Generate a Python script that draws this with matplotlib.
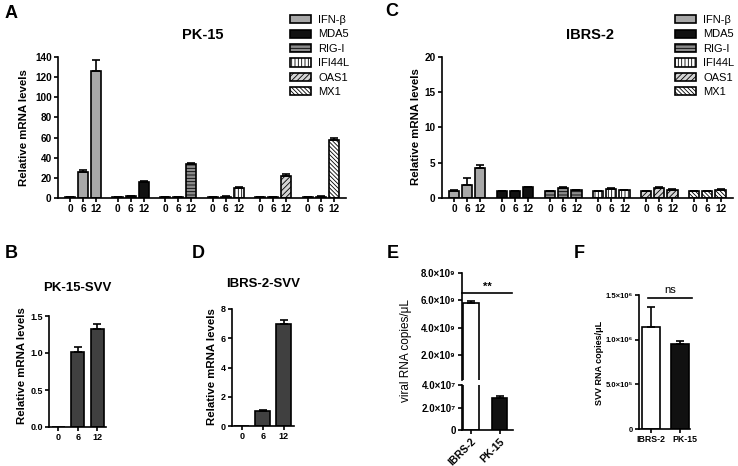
# plot.py
# Six-panel figure: ISG expression in PK-15 / IBRS-2 cells and SVV replication.
# Saves out.png.

import numpy as np
import matplotlib
matplotlib.use("Agg")
import matplotlib.pyplot as plt
from matplotlib.patches import Patch
from matplotlib.transforms import ScaledTranslation

plt.rcParams["font.family"] = ["Liberation Sans", "DejaVu Sans"]
plt.rcParams["font.weight"] = "bold"
plt.rcParams["hatch.linewidth"] = 0.6

W, H = 738, 466

# ---- data ----
genes = ["IFN-β", "MDA5", "RIG-I", "IFI44L", "OAS1", "MX1"]
hours = ["0", "6", "12"]

pk15_mean = [[1.0, 25.5, 126.5], [1.0, 1.5, 16.0], [1.0, 1.0, 33.5],
             [1.0, 1.3, 10.3], [1.0, 1.0, 21.5], [1.0, 1.3, 58.0]]
pk15_err = [[0.1, 2.0, 10.5], [0.1, 0.2, 0.5], [0.1, 0.1, 1.2],
            [0.1, 0.2, 1.0], [0.1, 0.1, 2.2], [0.1, 0.2, 1.5]]

ibrs2_mean = [[1.0, 1.9, 4.3], [1.0, 1.0, 1.5], [1.0, 1.4, 1.1],
              [1.0, 1.3, 1.1], [1.0, 1.4, 1.2], [0.95, 1.0, 1.2]]
ibrs2_err = [[0.15, 0.9, 0.35], [0.05, 0.05, 0.1], [0.05, 0.1, 0.05],
             [0.05, 0.1, 0.05], [0.05, 0.1, 0.05], [0.05, 0.05, 0.05]]

svv_hours = ["0", "6", "12"]
pk15_svv_mean = [0.0, 1.01, 1.33]
pk15_svv_err = [0.0, 0.07, 0.06]
ibrs2_svv_mean = [0.0, 1.02, 6.95]
ibrs2_svv_err = [0.0, 0.08, 0.30]

cells = ["IBRS-2", "PK-15"]
viral_copies = [5.8e9, 2.85e7]
viral_err = [0.12e9, 0.15e7]
e_upper_ticks = [2e9, 4e9, 6e9, 8e9]
e_upper_labels = ["2.0×10⁹", "4.0×10⁹", "6.0×10⁹", "8.0×10⁹"]
e_lower_ticks = [0, 2e7, 4e7]
e_lower_labels = ["0", "2.0×10⁷", "4.0×10⁷"]

svv_copies = [1.14e6, 0.955e6]
svv_err = [0.23e6, 0.035e6]
f_ticks = [0, 5e5, 1e6, 1.5e6]
f_labels = ["0", "5.0×10⁵", "1.0×10⁶", "1.5×10⁶"]

# ---- styles ----
gene_colors = ["#a8a8a8", "#111111", "#8c8c8c", "white", "#d4d4d4", "white"]
gene_hatches = [None, None, "-----", "|||||", "//////", "\\\\\\\\\\\\\\\\"]
LW = 1.2


def px_axes(fig, left, top, right, bottom):
    return fig.add_axes([left / W, 1 - bottom / H, (right - left) / W, (bottom - top) / H])


def ftext(fig, x, y, s, **kw):
    kw.setdefault("ha", "center")
    kw.setdefault("va", "center")
    return fig.text(x / W, 1 - y / H, s, **kw)


def style(ax, size=7):
    for s in ["top", "right"]:
        ax.spines[s].set_visible(False)
    for s in ["left", "bottom"]:
        ax.spines[s].set_linewidth(LW)
    ax.tick_params(direction="out", length=3, width=LW, labelsize=size, pad=1.5)


def errbars(ax, x, y, err, cap=3):
    ax.errorbar(x, y, yerr=[np.zeros(len(err)), err], fmt="none", ecolor="k",
                elinewidth=LW, capsize=cap, capthick=LW, zorder=3)


def gene_panel(ax, means, errs, ymax, yticks):
    step = 3.65
    xs = []
    for g in range(len(genes)):
        x = g * step + np.arange(len(hours))
        ax.bar(x, means[g], width=0.77, color=gene_colors[g], hatch=gene_hatches[g],
               edgecolor="k", linewidth=LW, zorder=2)
        errbars(ax, x, means[g], errs[g])
        xs.extend(x)
    ax.set_xticks(xs)
    ax.set_xticklabels(hours * len(genes))
    ax.set_xlim(-0.92, (len(genes) - 1) * step + 2.95)
    ax.set_ylim(0, ymax)
    ax.set_yticks(yticks)
    style(ax, 7.2)


def gene_legend(ax, fig, x, y):
    handles = [Patch(facecolor=c, hatch=h, edgecolor="k", linewidth=LW)
               for c, h in zip(gene_colors, gene_hatches)]
    ax.legend(handles, genes, loc="upper left", bbox_to_anchor=(x / W, 1 - y / H),
              bbox_transform=fig.transFigure, frameon=False,
              prop={"size": 8, "weight": "normal"}, handlelength=1.85,
              handleheight=0.75, handletextpad=0.7, labelspacing=0.4,
              borderpad=0, borderaxespad=0)


def svv_panel(ax, means, errs, width, xlim, ymax, yticks, ylabels=None):
    x = np.arange(len(svv_hours))
    ax.bar(x, means, width=width, color="#404040", edgecolor="k", linewidth=LW, zorder=2)
    errbars(ax, x[1:], means[1:], errs[1:])
    ax.set_xticks(x)
    ax.set_xticklabels(svv_hours)
    ax.set_xlim(*xlim)
    ax.set_ylim(0, ymax)
    ax.set_yticks(yticks)
    if ylabels is not None:
        ax.set_yticklabels(ylabels)
    style(ax, 6.5)


fig = plt.figure(figsize=(W / 100, H / 100), dpi=100)

# A
axA = px_axes(fig, 58, 57, 346, 198)
gene_panel(axA, pk15_mean, pk15_err, 140, range(0, 141, 20))
gene_legend(axA, fig, 290, 15)
ftext(fig, 203, 35, "PK-15", fontsize=10.5)
ftext(fig, 24, 128, "Relative mRNA levels", rotation=90, fontsize=8.2)

# C
axC = px_axes(fig, 442, 57, 733, 198)
gene_panel(axC, ibrs2_mean, ibrs2_err, 20, range(0, 21, 5))
gene_legend(axC, fig, 675, 15)
ftext(fig, 590, 35, "IBRS-2", fontsize=10.5)
ftext(fig, 416, 127, "Relative mRNA levels", rotation=90, fontsize=8.2)

# B
axB = px_axes(fig, 49, 316, 106, 427)
svv_panel(axB, pk15_svv_mean, pk15_svv_err, 0.67, (-0.47, 2.45), 1.5,
          [0, 0.5, 1.0, 1.5], ["0.0", "0.5", "1.0", "1.5"])
ftext(fig, 77, 288, "PK-15-SVV", fontsize=9.5)
ftext(fig, 22, 366, "Relative mRNA levels", rotation=90, fontsize=8.2)

# D
axD = px_axes(fig, 232, 309, 294, 426)
svv_panel(axD, ibrs2_svv_mean, ibrs2_svv_err, 0.72, (-0.48, 2.5), 8, [0, 2, 4, 6, 8])
ftext(fig, 263, 284, "IBRS-2-SVV", fontsize=9.5)
ftext(fig, 212, 367, "Relative mRNA levels", rotation=90, fontsize=8.2)

# E (broken y axis)
axE1 = px_axes(fig, 462, 273, 513, 380)
axE2 = px_axes(fig, 462, 385, 513, 430)
xe = np.arange(len(cells))
for ax in (axE1, axE2):
    ax.bar(xe, viral_copies, width=0.55, color=["white", "#111111"], edgecolor="k",
           linewidth=LW, zorder=2)
    errbars(ax, xe, viral_copies, viral_err)
    ax.set_xlim(-0.32, 1.47)
    style(ax, 7)
axE1.set_ylim(1.6e8, 8e9)
axE1.set_yticks(e_upper_ticks)
axE1.set_yticklabels(e_upper_labels)
axE1.spines["bottom"].set_visible(False)
axE1.set_xticks([])
axE2.set_ylim(0, 4e7)
axE2.set_yticks(e_lower_ticks)
axE2.set_yticklabels(e_lower_labels)
axE2.set_xticks(xe)
axE2.set_xticklabels(cells, rotation=45, ha="right", rotation_mode="anchor", fontsize=7.5)
axE1.plot([-0.32, 1.44], [6.53e9, 6.53e9], color="k", lw=LW, clip_on=False)
axE1.text(0.56, 6.62e9, "**", ha="center", va="bottom", fontsize=8)
ftext(fig, 406, 351, "viral RNA copies/μL", rotation=90, fontsize=8.5, fontweight="normal")

# F
axF = px_axes(fig, 639, 295, 690, 429)
xf = np.arange(len(cells))
axF.bar(xf, svv_copies, width=0.6, color=["white", "#111111"], edgecolor="k",
        linewidth=LW, zorder=2)
errbars(axF, xf, svv_copies, svv_err)
axF.set_xlim(-0.41, 1.34)
axF.set_ylim(0, 1.5e6)
axF.set_yticks(f_ticks)
axF.set_yticklabels(f_labels)
axF.set_xticks(xf)
axF.set_xticklabels(cells)
style(axF, 5.5)
axF.tick_params(axis="x", labelsize=6.3)
# the PK-15 label sits a little right of its bar in the reference
pk_lab = axF.get_xticklabels()[1]
pk_lab.set_transform(pk_lab.get_transform() + ScaledTranslation(0.05, 0, fig.dpi_scale_trans))
axF.plot([-0.1, 1.4], [1.466e6, 1.466e6], color="k", lw=LW, clip_on=False)
axF.text(0.65, 1.5e6, "ns", ha="center", va="bottom", fontsize=8, fontweight="normal")
ftext(fig, 600, 363, "SVV RNA copies/μL", rotation=90, fontsize=6.5)

# panel letters
for letter, x, y in [("A", 11, 13), ("C", 392, 12), ("B", 11, 254),
                     ("D", 198, 254), ("E", 393, 254), ("F", 579, 254)]:
    ftext(fig, x, y, letter, fontsize=13)

fig.savefig("out.png", dpi=100)
